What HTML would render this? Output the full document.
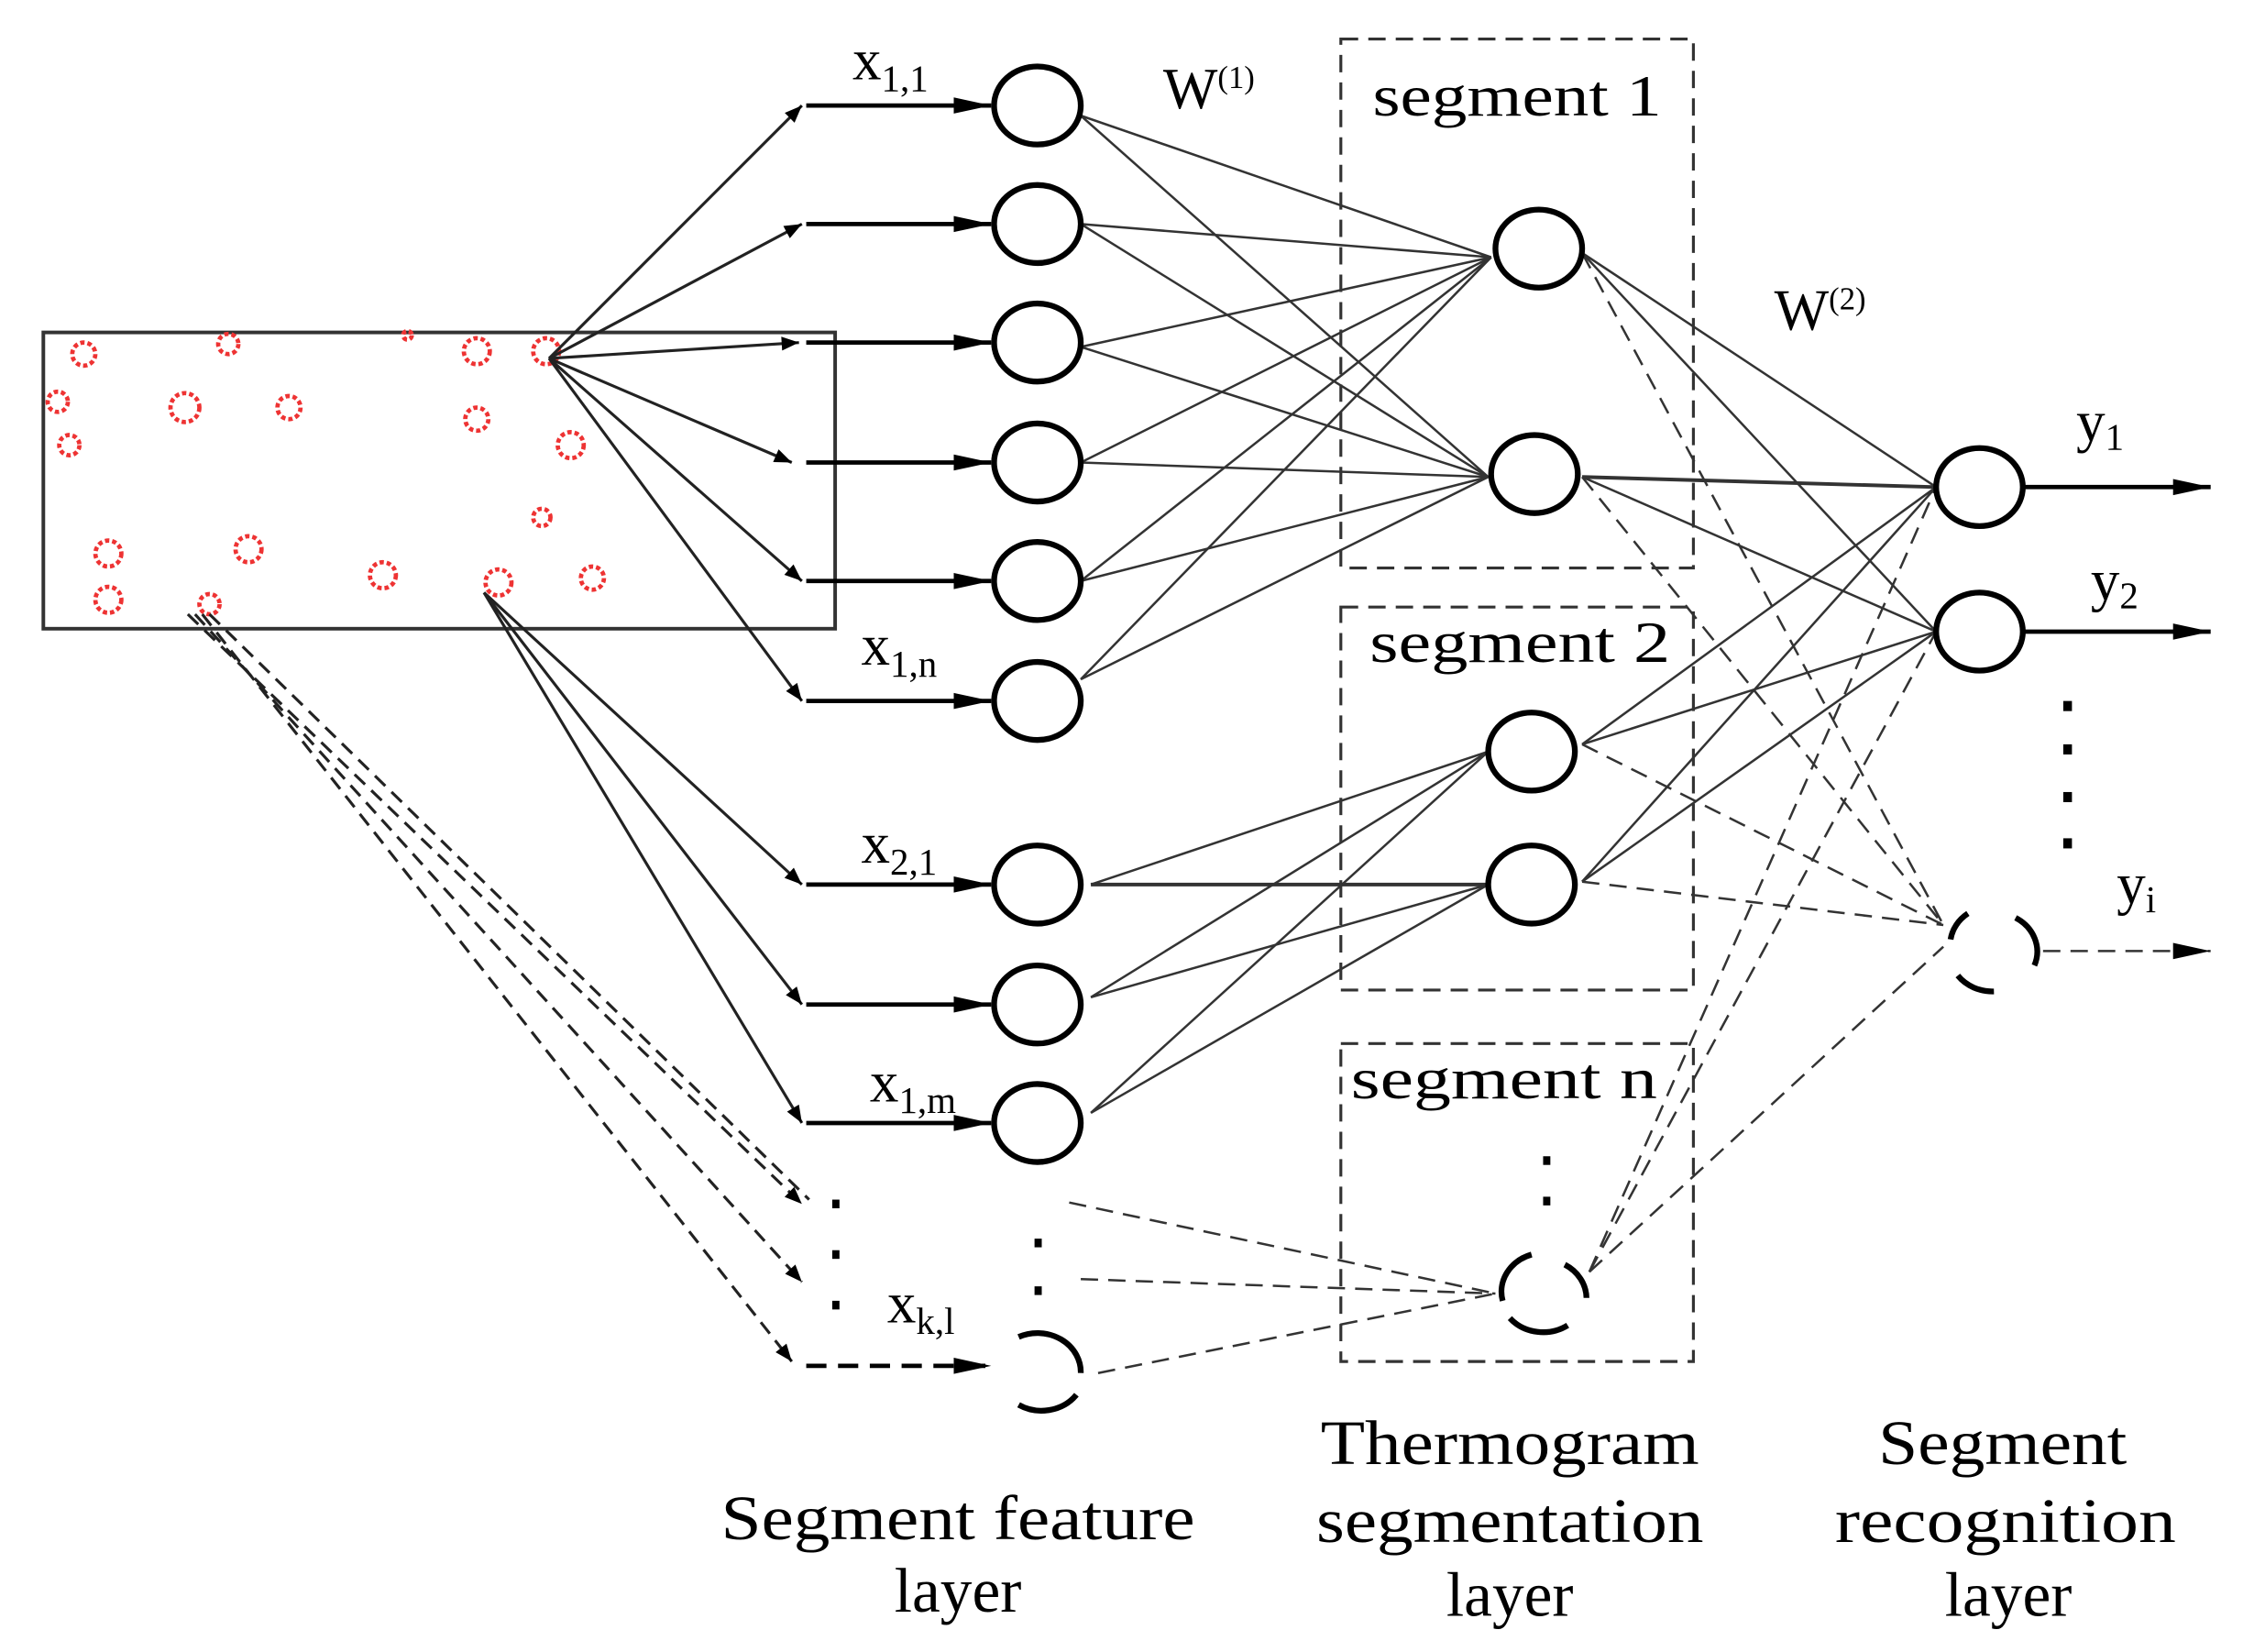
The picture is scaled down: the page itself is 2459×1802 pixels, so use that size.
<!DOCTYPE html>
<html><head><meta charset="utf-8"><style>
html,body{margin:0;padding:0;background:#fff;}
svg{display:block;}
text{font-family:"Liberation Serif",serif;fill:#000;}
</style></head><body>
<svg width="2459" height="1802" viewBox="0 0 1560 1143" preserveAspectRatio="none" xmlns="http://www.w3.org/2000/svg">
<defs>
<marker id="a" viewBox="0 0 10 10" refX="10" refY="5" markerWidth="14" markerHeight="12" markerUnits="userSpaceOnUse" orient="auto"><path d="M0,1 L10,5 L0,9 Z" fill="#000"/></marker>
<marker id="b" viewBox="0 0 10 10" refX="10" refY="5" markerWidth="26" markerHeight="14" markerUnits="userSpaceOnUse" orient="auto" preserveAspectRatio="none"><path d="M0,1 L10,5 L0,9 Z" fill="#000"/></marker>
</defs>
<rect x="30" y="230" width="548" height="205" fill="none" stroke="#333" stroke-width="2.5"/>
<g fill="none" stroke="#e33" stroke-width="3" stroke-dasharray="3 2">
<circle cx="58" cy="245" r="8"/><circle cx="158" cy="238" r="7"/><circle cx="330" cy="243" r="9"/><circle cx="378" cy="243" r="9"/>
<circle cx="40" cy="278" r="7"/><circle cx="128" cy="282" r="10"/><circle cx="200" cy="282" r="8"/><circle cx="330" cy="290" r="8"/>
<circle cx="395" cy="308" r="9"/><circle cx="48" cy="308" r="7"/><circle cx="375" cy="358" r="6"/><circle cx="75" cy="383" r="9"/>
<circle cx="172" cy="380" r="9"/><circle cx="265" cy="398" r="9"/><circle cx="345" cy="403" r="9"/><circle cx="410" cy="400" r="8"/>
<circle cx="75" cy="415" r="9"/><circle cx="145" cy="418" r="7"/><circle cx="282" cy="232" r="3"/>
</g>
<g stroke="#222" stroke-width="2" fill="none">
<line x1="380" y1="248" x2="555" y2="73" marker-end="url(#a)"/>
<line x1="380" y1="248" x2="555" y2="155" marker-end="url(#a)"/>
<line x1="380" y1="248" x2="553" y2="237" marker-end="url(#a)"/>
<line x1="380" y1="248" x2="548" y2="320" marker-end="url(#a)"/>
<line x1="380" y1="248" x2="555" y2="402" marker-end="url(#a)"/>
<line x1="380" y1="248" x2="555" y2="485" marker-end="url(#a)"/>
<line x1="335" y1="410" x2="555" y2="612" marker-end="url(#a)"/>
<line x1="335" y1="410" x2="555" y2="695" marker-end="url(#a)"/>
<line x1="335" y1="410" x2="555" y2="777" marker-end="url(#a)"/>
</g>
<g stroke="#222" stroke-width="2" fill="none" stroke-dasharray="10 6">
<line x1="130" y1="425" x2="555" y2="833" marker-end="url(#a)"/>
<line x1="135" y1="425" x2="555" y2="887" marker-end="url(#a)"/>
<line x1="140" y1="425" x2="548" y2="942" marker-end="url(#a)"/>
<line x1="145" y1="425" x2="560" y2="830"/>
</g>
<g stroke="#000" stroke-width="3" fill="none">
<line x1="558" y1="73" x2="686" y2="73" marker-end="url(#b)"/>
<line x1="558" y1="155" x2="686" y2="155" marker-end="url(#b)"/>
<line x1="558" y1="237" x2="686" y2="237" marker-end="url(#b)"/>
<line x1="558" y1="320" x2="686" y2="320" marker-end="url(#b)"/>
<line x1="558" y1="402" x2="686" y2="402" marker-end="url(#b)"/>
<line x1="558" y1="485" x2="686" y2="485" marker-end="url(#b)"/>
<line x1="558" y1="612" x2="686" y2="612" marker-end="url(#b)"/>
<line x1="558" y1="695" x2="686" y2="695" marker-end="url(#b)"/>
<line x1="558" y1="777" x2="686" y2="777" marker-end="url(#b)"/>
<line x1="558" y1="945" x2="686" y2="945" marker-end="url(#b)" stroke-dasharray="14 8"/>
</g>
<g stroke="#333" stroke-width="1.6">
<line x1="748" y1="80" x2="1032" y2="178"/><line x1="748" y1="80" x2="1030" y2="330"/>
<line x1="748" y1="155" x2="1032" y2="178"/><line x1="748" y1="155" x2="1030" y2="330"/>
<line x1="748" y1="240" x2="1032" y2="178"/><line x1="748" y1="240" x2="1030" y2="330"/>
<line x1="748" y1="320" x2="1032" y2="178"/><line x1="748" y1="320" x2="1030" y2="330"/>
<line x1="748" y1="402" x2="1032" y2="178"/><line x1="748" y1="402" x2="1030" y2="330"/>
<line x1="748" y1="470" x2="1032" y2="178"/><line x1="748" y1="470" x2="1030" y2="330"/>
<line x1="755" y1="612" x2="1030" y2="520"/><line x1="755" y1="612" x2="1030" y2="612" stroke-width="2.5"/>
<line x1="755" y1="690" x2="1030" y2="520"/><line x1="755" y1="690" x2="1030" y2="612"/>
<line x1="755" y1="770" x2="1030" y2="520"/><line x1="755" y1="770" x2="1030" y2="612"/>
<line x1="1095" y1="175" x2="1340" y2="337"/><line x1="1095" y1="175" x2="1340" y2="437"/>
<line x1="1095" y1="330" x2="1340" y2="337" stroke-width="2.5"/><line x1="1095" y1="330" x2="1340" y2="437"/>
<line x1="1095" y1="515" x2="1340" y2="337"/><line x1="1095" y1="515" x2="1340" y2="437"/>
<line x1="1095" y1="610" x2="1340" y2="337"/><line x1="1095" y1="610" x2="1340" y2="437"/>
</g>
<g stroke="#333" stroke-width="1.6" stroke-dasharray="12 7" fill="none">
<line x1="1095" y1="175" x2="1345" y2="640"/><line x1="1095" y1="330" x2="1345" y2="640"/>
<line x1="1095" y1="515" x2="1345" y2="640"/><line x1="1095" y1="610" x2="1345" y2="640"/>
<line x1="1100" y1="880" x2="1340" y2="337"/><line x1="1100" y1="880" x2="1340" y2="437"/><line x1="1100" y1="880" x2="1345" y2="655"/>
<line x1="740" y1="832" x2="1035" y2="895"/><line x1="748" y1="885" x2="1035" y2="895"/><line x1="760" y1="950" x2="1035" y2="895"/>
<line x1="1414" y1="658" x2="1530" y2="658" marker-end="url(#b)"/>
</g>
<g stroke="#000" stroke-width="3">
<line x1="1400" y1="337" x2="1530" y2="337" marker-end="url(#b)"/>
<line x1="1400" y1="437" x2="1530" y2="437" marker-end="url(#b)"/>
</g>
<g fill="#fff" stroke="#000" stroke-width="4">
<ellipse cx="718" cy="73" rx="30" ry="27"/><ellipse cx="718" cy="155" rx="30" ry="27"/>
<ellipse cx="718" cy="237" rx="30" ry="27"/><ellipse cx="718" cy="320" rx="30" ry="27"/>
<ellipse cx="718" cy="402" rx="30" ry="27"/><ellipse cx="718" cy="485" rx="30" ry="27"/>
<ellipse cx="718" cy="612" rx="30" ry="27"/><ellipse cx="718" cy="695" rx="30" ry="27"/>
<ellipse cx="718" cy="777" rx="30" ry="27"/>
<ellipse cx="1065" cy="172" rx="30" ry="27"/><ellipse cx="1062" cy="328" rx="30" ry="27"/>
<ellipse cx="1060" cy="520" rx="30" ry="27"/><ellipse cx="1060" cy="612" rx="30" ry="27"/>
<ellipse cx="1370" cy="337" rx="30" ry="27"/><ellipse cx="1370" cy="437" rx="30" ry="27"/>
</g>
<g fill="none" stroke="#000" stroke-width="4">
<path d="M705,925 A30,27 0 0 1 748,950 M745,965 A30,27 0 0 1 705,972"/>
<path d="M1060,868 A30,27 0 0 0 1040,900 M1045,912 A30,27 0 0 0 1085,917 M1083,875 A30,27 0 0 1 1098,898"/>
<path d="M1362,632 A30,27 0 0 0 1350,650 M1355,675 A30,27 0 0 0 1380,686 M1395,635 A30,27 0 0 1 1408,668"/>
</g>
<g fill="none" stroke="#333" stroke-width="2" stroke-dasharray="12 7">
<rect x="928" y="27" width="244" height="366"/>
<rect x="928" y="420" width="244" height="265"/>
<rect x="928" y="722" width="244" height="220"/>
</g>
<g fill="#000">
<rect x="576" y="830" width="5" height="6"/><rect x="576" y="865" width="5" height="6"/><rect x="576" y="900" width="5" height="6"/>
<rect x="716" y="857" width="5" height="6"/><rect x="716" y="890" width="5" height="6"/>
<rect x="1068" y="800" width="5" height="6"/><rect x="1068" y="828" width="5" height="6"/>
<rect x="1428" y="485" width="6" height="7"/><rect x="1428" y="515" width="6" height="7"/><rect x="1428" y="548" width="6" height="7"/><rect x="1428" y="580" width="6" height="7"/>
</g>
<g font-size="40">
<text x="590" y="55">x<tspan font-size="26" dy="8">1,1</tspan></text>
<text x="596" y="460">x<tspan font-size="26" dy="8">1,n</tspan></text>
<text x="596" y="597">x<tspan font-size="26" dy="8">2,1</tspan></text>
<text x="602" y="762">x<tspan font-size="26" dy="8">1,m</tspan></text>
<text x="614" y="915">x<tspan font-size="26" dy="8">k,l</tspan></text>
<text x="805" y="75">W<tspan font-size="22" dy="-14">(1)</tspan></text>
<text x="1228" y="228">W<tspan font-size="22" dy="-14">(2)</tspan></text>
<text x="1437" y="305">y<tspan font-size="26" dy="6">1</tspan></text>
<text x="1447" y="415">y<tspan font-size="26" dy="6">2</tspan></text>
<text x="1465" y="625">y<tspan font-size="26" dy="6">i</tspan></text>
<text x="950" y="80" textLength="200" lengthAdjust="spacingAndGlyphs">segment 1</text>
<text x="948" y="458" textLength="208" lengthAdjust="spacingAndGlyphs">segment 2</text>
<text x="935" y="760" textLength="212" lengthAdjust="spacingAndGlyphs">segment n</text>
</g>
<g font-size="44" text-anchor="middle">
<text x="663" y="1065" textLength="328" lengthAdjust="spacingAndGlyphs">Segment feature</text>
<text x="663" y="1115">layer</text>
<text x="1045" y="1013" textLength="262" lengthAdjust="spacingAndGlyphs">Thermogram</text>
<text x="1045" y="1067" textLength="268" lengthAdjust="spacingAndGlyphs">segmentation</text>
<text x="1045" y="1118">layer</text>
<text x="1386" y="1013" textLength="172" lengthAdjust="spacingAndGlyphs">Segment</text>
<text x="1388" y="1067" textLength="236" lengthAdjust="spacingAndGlyphs">recognition</text>
<text x="1390" y="1118">layer</text>
</g>
</svg>
</body></html>
